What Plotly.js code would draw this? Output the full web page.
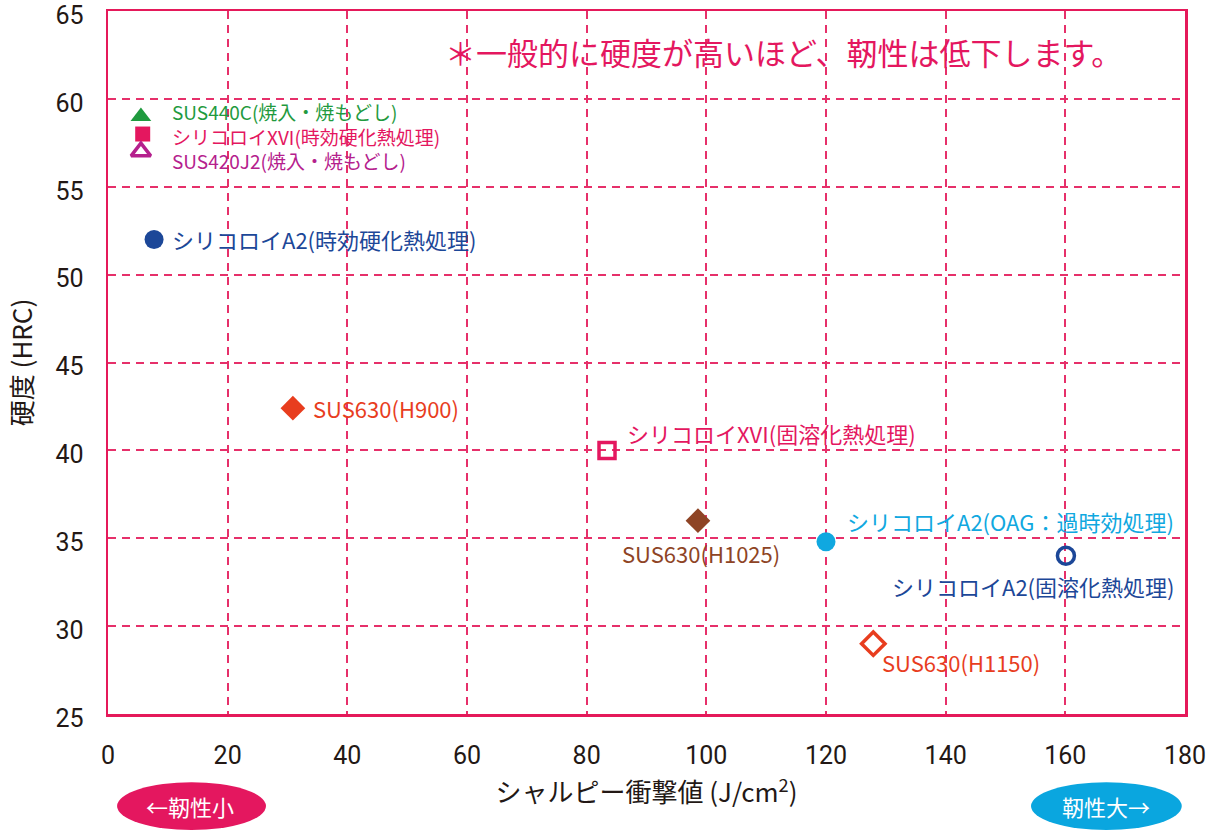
<!DOCTYPE html>
<html><head><meta charset="utf-8">
<script src="https://cdn.plot.ly/plotly-3.0.1.min.js"></script>
<style>body{margin:0;background:#fff}#c{width:1208px;height:832px}</style>
</head><body><div id="c"></div>
<script>
// ---- data ----
const materials = [
  "SUS440C(焼入・焼もどし)",
  "シリコロイXVI(時効硬化熱処理)",
  "SUS420J2(焼入・焼もどし)",
  "シリコロイA2(時効硬化熱処理)",
  "SUS630(H900)",
  "シリコロイXVI(固溶化熱処理)",
  "SUS630(H1025)",
  "シリコロイA2(OAG：過時効処理)",
  "シリコロイA2(固溶化熱処理)",
  "SUS630(H1150)"
];
const charpy = [5.5, 5.8, 5.5, 7.7, 30.9, 83.4, 98.6, 120.0, 160.1, 127.9];
const hardness = [59.0, 58.0, 57.0, 52.0, 42.4, 40.0, 36.0, 34.8, 34.0, 29.0];
const xTicks = [0, 20, 40, 60, 80, 100, 120, 140, 160, 180];
const yTicks = [25, 30, 35, 40, 45, 50, 55, 60, 65];
const xTitle = "シャルピー衝撃値 (J/cm<sup>2</sup>)";
const yTitle = "硬度 (HRC)";
const note = "＊一般的に硬度が高いほど、靭性は低下します。";
const leftBadge = "←靭性小";
const rightBadge = "靭性大→";

// ---- styles ----
const colors = ["#1f9a3e","#e4175f","#b5208d","#1c4798","#e83d1e","#e4175f","#8e4425","#10a8e0","#1c4798","#e83d1e"];
const symbols = ["triangle-up","square","triangle-up-open","circle","diamond","square-open","diamond","circle","circle-open","diamond-open"];
const sizes = [18,15,17,19,19,16,19,19,17,18];
const lineW = [0,0,3.5,0,0,3.5,0,0,3.5,3.5];
const offsets = [null,[27,-2],null,[16,0],[18,0],[18,17],[-78,-32],[19,21],[-176,-30],[7,-18]];
const stacked = [0, 1, 2];   // labels drawn as one block beside the top-left group
const gridC = "#e6306a";
const borderC = "#e5195a";
const jp = "'Noto Sans CJK JP', 'Noto Sans', sans-serif";
const num = "'Liberation Sans Narrow', 'Roboto', sans-serif";

const trace = {
  type: "scatter", mode: "markers",
  x: charpy, y: hardness, text: materials, hoverinfo: "text",
  marker: {symbol: symbols, color: colors, size: sizes, opacity: 1, line: {width: lineW, color: colors}}
};

const annotations = [];
annotations.push({
  x: charpy[1], y: hardness[1], xref: "x", yref: "y",
  text: stacked.map(i => `<span style="color:${colors[i]}">${materials[i]}</span>`).join("<br>"),
  showarrow: false, xanchor: "left", yanchor: "middle", align: "left",
  xshift: offsets[1][0], yshift: offsets[1][1],
  font: {family: jp, size: 19, color: colors[1]}
});
materials.forEach((m, i) => {
  if (stacked.includes(i)) return;
  annotations.push({
    x: charpy[i], y: hardness[i], xref: "x", yref: "y",
    text: m, showarrow: false, xanchor: "left", yanchor: "middle",
    xshift: offsets[i][0], yshift: offsets[i][1],
    font: {family: jp, size: 22, color: colors[i]}
  });
});
annotations.push({
  xref: "paper", yref: "paper", x: 0.627, y: 0.942, text: note, showarrow: false,
  xanchor: "center", yanchor: "middle", font: {family: jp, size: 31, color: "#e4175f"}
});
annotations.push({
  xref: "paper", yref: "paper", x: 0.0765, y: -0.131, text: leftBadge, showarrow: false,
  xanchor: "center", yanchor: "middle", font: {family: jp, size: 22, color: "#ffffff"}
});
annotations.push({
  xref: "paper", yref: "paper", x: 0.927, y: -0.131, text: rightBadge, showarrow: false,
  xanchor: "center", yanchor: "middle", font: {family: jp, size: 22, color: "#ffffff"}
});

const shapes = [
  {type: "circle", xref: "paper", yref: "paper", x0: 0.0084, x1: 0.1467, y0: -0.165, y1: -0.097,
   fillcolor: "#e4175f", line: {width: 0}, layer: "above"},
  {type: "circle", xref: "paper", yref: "paper", x0: 0.857, x1: 0.997, y0: -0.165, y1: -0.097,
   fillcolor: "#0aa6df", line: {width: 0}, layer: "above"}
];

const layout = {
  width: 1208, height: 832,
  margin: {l: 108, r: 23, t: 11, b: 118},
  paper_bgcolor: "#fff", plot_bgcolor: "#fff",
  showlegend: false,
  xaxis: {
    range: [0, 180], tickvals: xTicks, ticktext: xTicks.map(String),
    showgrid: true, gridcolor: gridC, gridwidth: 2, griddash: "8px,6px",
    zeroline: false, showline: true, mirror: true, linecolor: borderC, linewidth: 2.5,
    ticks: "", ticklabelstandoff: 17, ticklabeloverflow: "allow",
    tickfont: {family: num, size: 25, color: "#231815"},
    title: {text: xTitle, standoff: 16, font: {family: jp, size: 26, color: "#231815"}}
  },
  yaxis: {
    range: [25, 65], tickvals: yTicks, ticktext: yTicks.map(String),
    showgrid: true, gridcolor: gridC, gridwidth: 2, griddash: "8px,6px",
    zeroline: false, showline: true, mirror: true, linecolor: borderC, linewidth: 2.5,
    ticks: "", ticklabelstandoff: 17, ticklabeloverflow: "allow", ticklabelshift: 4,
    tickfont: {family: num, size: 25, color: "#231815"},
    title: {text: yTitle, standoff: 16, font: {family: jp, size: 26, color: "#231815"}}
  },
  annotations: annotations,
  shapes: shapes
};

Plotly.newPlot("c", [trace], layout, {displayModeBar: false, staticPlot: true});
</script>
</body></html>
